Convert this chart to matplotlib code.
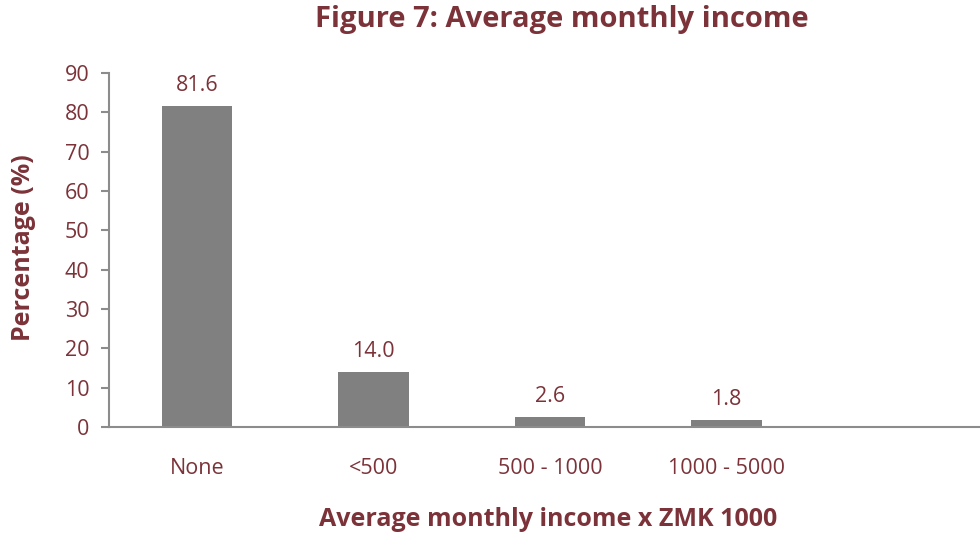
import matplotlib.pyplot as plt

# data
categories = ["None", "<500", "500 - 1000", "1000 - 5000", ""]
values = [81.6, 14.0, 2.6, 1.8, None]
yticks = [0, 10, 20, 30, 40, 50, 60, 70, 80, 90]

maroon = "#7b3339"
grey = "#808080"
axis_grey = "#8c8c8c"

plt.rcParams['font.family'] = ['Open Sans', 'DejaVu Sans']

fig = plt.figure(figsize=(9.8, 5.37), dpi=100)
ax = fig.add_axes([109/980, 110/537, 882/980, 354/537])

xs = [i for i, v in enumerate(values) if v is not None]
hs = [v for v in values if v is not None]
ax.bar(xs, hs, width=0.4, color=grey, zorder=2)
for x, h in zip(xs, hs):
    ax.text(x, h + 2.6, "%.1f" % h, ha="center", va="bottom", color=maroon, fontsize=15.5)

ax.set_xlim(-0.5, 4.5)
ax.set_ylim(0, 90)
ax.set_yticks(yticks)
ax.set_xticks(range(len(categories)))
ax.set_xticklabels(categories)
ax.tick_params(axis="x", length=0, pad=22, labelcolor=maroon, labelsize=15.5)
ax.tick_params(axis="y", length=6, width=1.5, color=axis_grey, labelcolor=maroon, labelsize=15.5, pad=8)

for s in ["top", "right"]:
    ax.spines[s].set_visible(False)
for s in ["left", "bottom"]:
    ax.spines[s].set_color(axis_grey)
    ax.spines[s].set_linewidth(1.5)

fig.text(562/980, 1 - 20/537, "Figure 7: Average monthly income", ha="center", va="center",
         color=maroon, fontsize=21, fontweight="bold")
fig.text(548/980, 1 - 519/537, "Average monthly income x ZMK 1000", ha="center", va="center",
         color=maroon, fontsize=18, fontweight="bold")
fig.text(24/980, 1 - 248/537, "Percentage (%)", ha="center", va="center", rotation=90,
         color=maroon, fontsize=18, fontweight="bold")

fig.savefig("out.png", dpi=100)
